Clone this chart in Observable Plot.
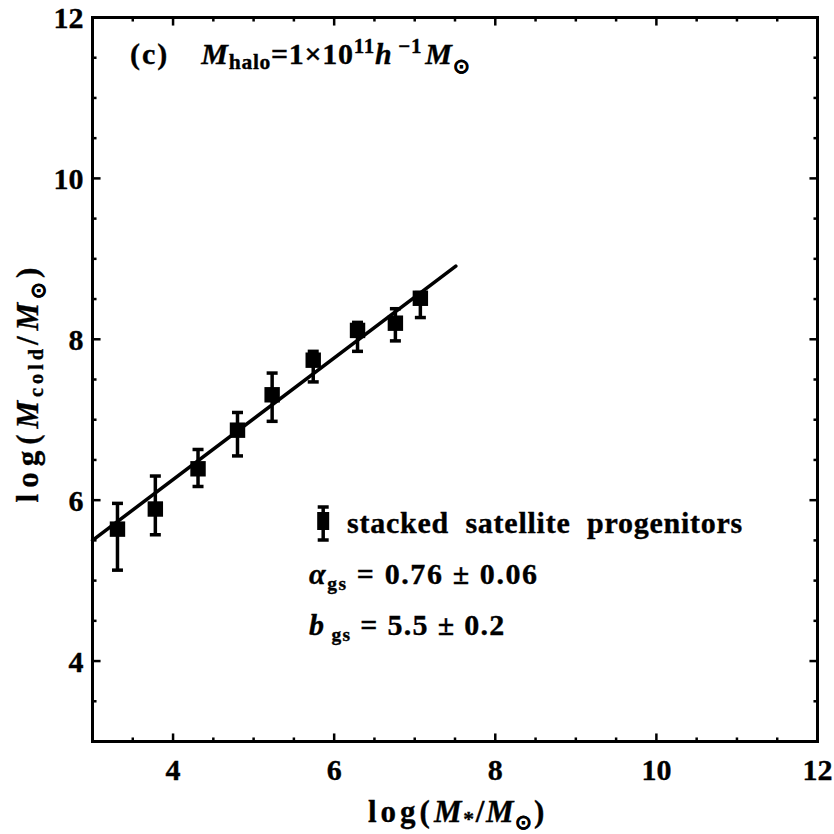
<!DOCTYPE html>
<html>
<head>
<meta charset="utf-8">
<script src="https://cdn.jsdelivr.net/npm/d3@7"></script>
<script src="https://cdn.jsdelivr.net/npm/@observablehq/plot@0.6"></script>
<style>
  html, body { margin: 0; padding: 0; background: #fff; }
  svg text { font-family: "Liberation Serif", "Times New Roman", serif; font-weight: bold; stroke: black; stroke-width: 0.35px; }
</style>
</head>
<body>
<div id="chart"></div>
<script>
// Stacked satellite progenitors: log stellar mass vs log cold gas mass
const logMstar = [3.31, 3.78, 4.31, 4.80, 5.23, 5.74, 6.29, 6.76, 7.07];
const logMcold = [5.64, 5.89, 6.39, 6.87, 7.31, 7.74, 8.11, 8.20, 8.51];
const errHigh  = [5.96, 6.30, 6.63, 7.09, 7.58, 7.85, 8.21, 8.38, 8.58];
const errLow   = [5.13, 5.57, 6.17, 6.55, 6.98, 7.47, 7.85, 7.98, 8.27];

// Best-fit relation, drawn between these two end points
const fitX = [3.0, 7.51];
const fitY = [5.50, 8.91];

const xTickLabels = [4, 6, 8, 10, 12];
const yTickLabels = [4, 6, 8, 10, 12];
const minorTicks = d3.range(3, 12.001, 0.5);

const points = logMstar.map((x, i) => ({x, y: logMcold[i], lo: errLow[i], hi: errHigh[i]}));
const fit = fitX.map((x, i) => ({x, y: fitY[i]}));

// tick lengths in data units (major on even values)
const isMajor = v => Math.abs(v % 2) < 1e-9;
const tlen = v => (isMajor(v) ? 0.1 : 0.05);

// horizontal error-bar cap
const capSymbol = {
  draw(ctx, size) {
    const w = Math.sqrt(size / Math.PI);
    ctx.moveTo(-w, 0);
    ctx.lineTo(w, 0);
  }
};

const chart = Plot.plot({
  width: 834,
  height: 834,
  marginLeft: 92,
  marginRight: 17,
  marginTop: 17,
  marginBottom: 93,
  x: {domain: [3, 12], axis: null},
  y: {domain: [3, 12], axis: null},
  style: {fontFamily: "Liberation Serif", fontWeight: "bold", color: "black", background: "white"},
  marks: [
    Plot.frame({stroke: "black", strokeWidth: 3}),
    // inward ticks on all four sides
    Plot.link(minorTicks, {x1: d => d, x2: d => d, y1: 3, y2: d => 3 + tlen(d), stroke: "black", strokeWidth: 2.5}),
    Plot.link(minorTicks, {x1: d => d, x2: d => d, y1: 12, y2: d => 12 - tlen(d), stroke: "black", strokeWidth: 2.5}),
    Plot.link(minorTicks, {y1: d => d, y2: d => d, x1: 3, x2: d => 3 + tlen(d), stroke: "black", strokeWidth: 2.5}),
    Plot.link(minorTicks, {y1: d => d, y2: d => d, x1: 12, x2: d => 12 - tlen(d), stroke: "black", strokeWidth: 2.5}),
    // tick labels
    Plot.text(xTickLabels, {x: d => d, y: 3, dy: 29, text: d => String(d), fontSize: 30, fontWeight: "bold", fill: "black"}),
    Plot.text(yTickLabels, {x: 3, y: d => d, dx: -9, dy: 1, text: d => String(d), textAnchor: "end", fontSize: 30, fontWeight: "bold", fill: "black"}),
    // fit line
    Plot.line(fit, {x: "x", y: "y", stroke: "black", strokeWidth: 3.5}),
    // error bars
    Plot.ruleX(points, {x: "x", y1: "lo", y2: "hi", stroke: "black", strokeWidth: 3.5}),
    Plot.dot(points, {x: "x", y: "hi", symbol: capSymbol, r: 5.5, stroke: "black", strokeWidth: 3.5}),
    Plot.dot(points, {x: "x", y: "lo", symbol: capSymbol, r: 5.5, stroke: "black", strokeWidth: 3.5}),
    // markers
    Plot.dot(points, {x: "x", y: "y", symbol: "square", r: 8.7, fill: "black", stroke: "none"})
  ]
});

document.getElementById("chart").appendChild(chart);

const svg = d3.select(chart);
const sx = chart.scale("x"), sy = chart.scale("y");

// text with italic / subscript / superscript pieces
function rich(parent, x, y, parts, {size = 28, anchor = "start", spacing = 0, transform = null} = {}) {
  const t = parent.append("text")
    .attr("x", x).attr("y", y)
    .attr("font-size", size)
    .attr("text-anchor", anchor)
    .attr("fill", "black")
    .attr("letter-spacing", spacing)
    .style("white-space", "pre");
  if (transform) t.attr("transform", transform);
  let cur = 0;
  for (const p of parts) {
    const s = t.append("tspan").text(p.t);
    const off = p.dy || 0;
    if (off !== cur || p.dx) s.attr("dy", off - cur);
    if (p.dx) s.attr("dx", p.dx);
    cur = off;
    if (p.fs) s.attr("font-size", size * p.fs);
    if (p.it) s.attr("font-style", "italic");
    if (p.ls != null) s.attr("letter-spacing", p.ls);
  }
  return t;
}

const sun = "\u2299";

// panel title
rich(svg, 130, 64, [
  {t: "(c)", ls: 2},
  {t: "M", it: true, dx: 32},
  {t: "halo", fs: 0.72, dy: 5},
  {t: "=1\u00d710"},
  {t: "11", fs: 0.7, dy: -11},
  {t: "h", it: true},
  {t: " \u22121", fs: 0.7, dy: -11},
  {t: "M", it: true, dx: 3},
  {t: sun, fs: 0.65, dy: 9}
], {size: 30, spacing: 0.7});

// axis titles
rich(svg, 457, 822, [
  {t: "log(", ls: 4},
  {t: "M", it: true},
  {t: "*", fs: 0.7, dy: 4},
  {t: "/"},
  {t: "M", it: true},
  {t: sun, fs: 0.65, dy: 7},
  {t: ")"}
], {size: 31, anchor: "middle", spacing: 1.7});

rich(svg, 0, 0, [
  {t: "log(", ls: 6},
  {t: "M", it: true},
  {t: "cold", fs: 0.65, dy: 5},
  {t: "/", ls: 6},
  {t: "M", it: true},
  {t: sun, fs: 0.65, dy: 7},
  {t: ")"}
], {size: 31, anchor: "middle", spacing: 4, transform: "translate(38,383) rotate(-90)"});

// legend marker with error bar
const lgX = sx.apply(5.87), lgY = 521;
const lg = svg.append("g").attr("stroke", "black").attr("stroke-width", 3.5);
lg.append("line").attr("x1", lgX).attr("x2", lgX).attr("y1", 507).attr("y2", 540);
lg.append("line").attr("x1", lgX - 5.5).attr("x2", lgX + 5.5).attr("y1", 507).attr("y2", 507);
lg.append("line").attr("x1", lgX - 5.5).attr("x2", lgX + 5.5).attr("y1", 540).attr("y2", 540);
svg.append("rect").attr("x", lgX - 6).attr("y", lgY - 9).attr("width", 12).attr("height", 18).attr("fill", "black");

rich(svg, 347, 533, [{t: "stacked  satellite  progenitors"}], {size: 30, spacing: 0.75});

rich(svg, 309, 584, [
  {t: "\u03b1", it: true},
  {t: "gs", fs: 0.65, dy: 6},
  {t: " = 0.76 \u00b1 0.06"}
], {size: 30, spacing: 1.6});

rich(svg, 309, 635, [
  {t: "b", it: true},
  {t: " gs", fs: 0.65, dy: 6},
  {t: " = 5.5 \u00b1 0.2"}
], {size: 30, spacing: 1.3});
</script>
</body>
</html>
